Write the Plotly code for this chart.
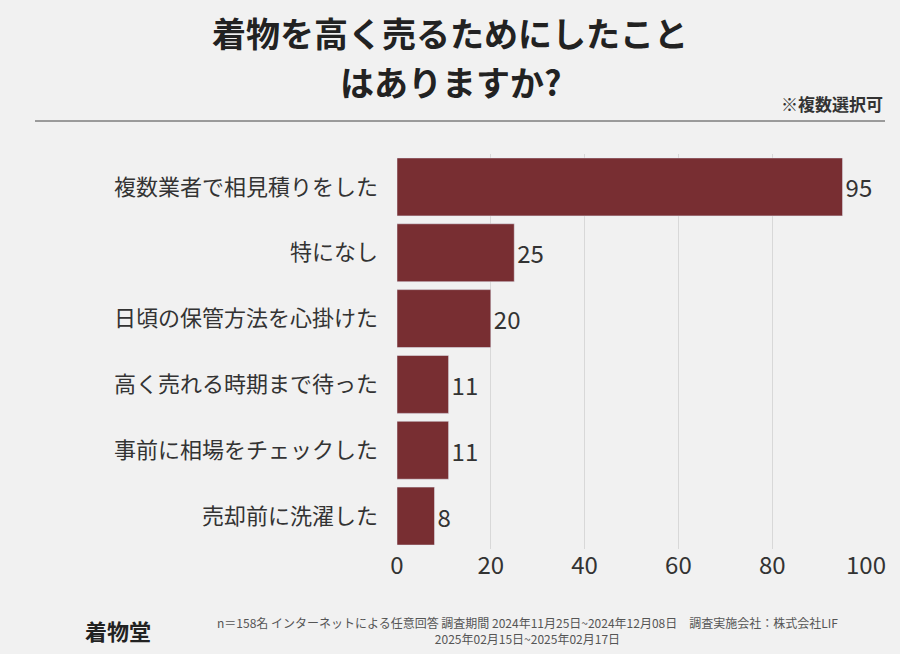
import plotly.graph_objects as go

categories = ["複数業者で相見積りをした", "特になし", "日頃の保管方法を心掛けた",
              "高く売れる時期まで待った", "事前に相場をチェックした", "売却前に洗濯した"]
values = [95, 25, 20, 11, 11, 8]
tickvals = [0, 20, 40, 60, 80, 100]

F = "Noto Sans CJK JP"
fig = go.Figure(go.Bar(
    x=values, y=categories, orientation="h", width=0.88,
    marker=dict(color="#782e32"),
    text=[str(v) for v in values], textposition="outside",
    textfont=dict(size=24, color="#333", family=F), cliponaxis=False,
))
fig.update_layout(
    width=900, height=654, margin=dict(l=397, r=34, t=154, b=105),
    paper_bgcolor="#f1f1f1", plot_bgcolor="#f1f1f1", showlegend=False,
    font=dict(family=F, color="#333"),
    xaxis=dict(range=[0, 100], tickvals=tickvals, showgrid=True, gridcolor="#d8d8d8",
               zeroline=False, tickfont=dict(size=24, color="#333"), ticks=""),
    yaxis=dict(autorange="reversed", tickfont=dict(size=22, color="#333"), ticks="",
               ticklabelstandoff=18),
    annotations=[
        dict(text="<b>着物を高く売るためにしたこと</b>", font=dict(size=34, color="#222")),
        dict(text="<b>はありますか?</b>", font=dict(size=34, color="#222")),
        dict(text="<b>※複数選択可</b>", font=dict(size=17, color="#333")),
        dict(text="<b>着物堂</b>", font=dict(size=22, color="#222")),
        dict(text="n＝158名 インターネットによる任意回答 調査期間 2024年11月25日~2024年12月08日　調査実施会社：株式会社LIF<br>2025年02月15日~2025年02月17日",
             align="center", font=dict(size=12, color="#555")),
    ],
    shapes=[dict(type="line", xref="paper", yref="paper", x0=0, x1=1, y0=0, y1=0)],
)
pw, ph = 900 - 397 - 34, 654 - 154 - 105
def px(x): return (x - 397) / pw
def py(y): return (654 - 105 - y) / ph
a = fig.layout.annotations
for ann in a:
    ann.update(xref="paper", yref="paper", showarrow=False, xanchor="center", yanchor="middle")
a[0].update(x=px(450), y=py(33))
a[1].update(x=px(450), y=py(82))
a[2].update(x=px(885), y=py(118), xanchor="right", yanchor="bottom")
a[3].update(x=px(118), y=py(630))
a[4].update(x=px(527), y=py(630))
fig.layout.shapes[0].update(x0=px(35), x1=px(885), y0=py(121), y1=py(121),
                            line=dict(color="#444", width=1))
fig.write_html("out.html", config={"displayModeBar": False},
               post_script="document.body.style.margin='0';document.body.style.overflow='hidden';")
